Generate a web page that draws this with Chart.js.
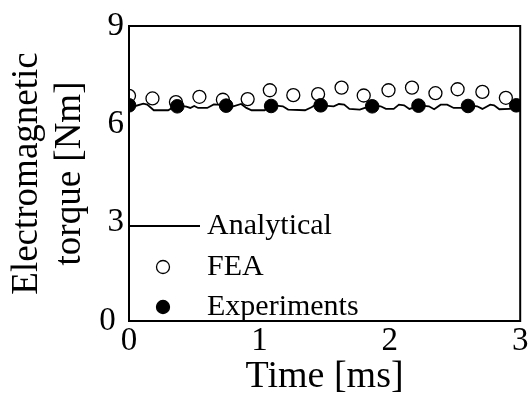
<!DOCTYPE html>
<html>
<head>
<meta charset="utf-8">
<script src="https://cdn.jsdelivr.net/npm/chart.js@4.4.1/dist/chart.umd.min.js"></script>
<style>
  html, body { margin: 0; padding: 0; background: #fff; }
  #wrap { width: 528px; height: 394px; }
</style>
</head>
<body>
<div id="wrap"><canvas id="torqueChart" width="528" height="394"></canvas></div>
<script>
// Electromagnetic torque vs time: analytical, FEA and experiments

const xTicks = [0, 1, 2, 3];
const yTicks = [0, 3, 6, 9];

const analyticalTime = [
    0, 0.05, 0.11, 0.14, 0.19, 0.30, 0.34,
    0.37, 0.44, 0.47, 0.50, 0.53, 0.60, 0.65, 0.69, 0.72,
    0.745, 0.80, 0.86, 0.90, 0.94, 1.04, 1.07,
    1.11, 1.18, 1.22, 1.35, 1.40, 1.44,
    1.47, 1.57, 1.61, 1.65, 1.69, 1.77, 1.82,
    1.86, 1.93, 1.97, 2.03, 2.07, 2.11, 2.15, 2.19,
    2.22, 2.30, 2.34, 2.39, 2.44, 2.49, 2.56,
    2.60, 2.67, 2.71, 2.77, 2.80, 2.84, 2.92,
    2.97, 3.00
];
const analyticalTorque = [
    6.58, 6.56, 6.63, 6.60, 6.43, 6.43, 6.52,
    6.58, 6.54, 6.50, 6.56, 6.50, 6.50, 6.61, 6.60, 6.55,
    6.58, 6.55, 6.62, 6.50, 6.43, 6.43, 6.52,
    6.58, 6.55, 6.45, 6.43, 6.52, 6.62,
    6.58, 6.55, 6.62, 6.60, 6.47, 6.45, 6.52,
    6.58, 6.55, 6.47, 6.47, 6.60, 6.58, 6.47, 6.52,
    6.58, 6.55, 6.46, 6.60, 6.60, 6.50, 6.50,
    6.58, 6.55, 6.47, 6.60, 6.58, 6.46, 6.47,
    6.58, 6.57
];

const feaTime = [0, 0.18, 0.36, 0.54, 0.72, 0.91, 1.08, 1.26, 1.45, 1.63, 1.80, 1.99, 2.17, 2.35, 2.52, 2.71, 2.89];
const feaTorque = [6.87, 6.79, 6.68, 6.84, 6.75, 6.77, 7.04, 6.89, 6.92, 7.12, 6.88, 7.04, 7.12, 6.95, 7.07, 6.99, 6.81];

const expTime = [0, 0.37, 0.745, 1.09, 1.47, 1.865, 2.22, 2.60, 2.97];
const expTorque = [6.58, 6.55, 6.57, 6.56, 6.58, 6.55, 6.57, 6.56, 6.58];

const serif = '"Liberation Serif", "Times New Roman", serif';

function toPoints(xs, ys) {
    return xs.map(function(x, i) { return { x: x, y: ys[i] }; });
}

// box round the plot area
const framePlugin = {
    id: 'frame',
    afterDraw: function(chart) {
        const a = chart.chartArea;
        const ctx = chart.ctx;
        ctx.save();
        ctx.strokeStyle = '#000';
        ctx.lineWidth = 2;
        ctx.strokeRect(a.left, a.top, a.right - a.left, a.bottom - a.top);
        ctx.restore();
    }
};

// legend in the lower-left corner of the plot
const insideLegend = {
    id: 'insideLegend',
    afterDraw: function(chart) {
        const ctx = chart.ctx;
        const a = chart.chartArea;
        const rows = [226, 267, 307];
        const symbolX = 163;
        const textX = 207;
        ctx.save();
        ctx.font = '30px ' + serif;
        ctx.fillStyle = '#000';
        ctx.textBaseline = 'middle';
        chart.data.datasets.forEach(function(ds, i) {
            const y = rows[i];
            ctx.strokeStyle = '#000';
            if (ds.showLine) {
                ctx.lineWidth = 1.8;
                ctx.beginPath();
                ctx.moveTo(a.left, y);
                ctx.lineTo(200, y);
                ctx.stroke();
            } else {
                ctx.lineWidth = 1.3;
                ctx.beginPath();
                ctx.arc(symbolX, y, 6.5, 0, Math.PI * 2);
                ctx.fillStyle = ds.pointBackgroundColor;
                ctx.fill();
                ctx.stroke();
            }
            ctx.fillStyle = '#000';
            ctx.fillText(ds.label, textX, y);
        });
        ctx.restore();
    }
};

function initTorqueChart() {
    const ctx = document.getElementById('torqueChart');

    new Chart(ctx, {
        type: 'scatter',
        data: {
            datasets: [{
                label: 'Analytical',
                data: toPoints(analyticalTime, analyticalTorque),
                showLine: true,
                borderColor: '#000',
                borderWidth: 1.8,
                pointRadius: 0,
                tension: 0,
                order: 3
            }, {
                label: 'FEA',
                data: toPoints(feaTime, feaTorque),
                showLine: false,
                pointRadius: 6.5,
                pointBorderWidth: 1.3,
                borderColor: '#000',
                pointBorderColor: '#000',
                pointBackgroundColor: '#fff',
                order: 2
            }, {
                label: 'Experiments',
                data: toPoints(expTime, expTorque),
                showLine: false,
                pointRadius: 6.8,
                pointBorderWidth: 1,
                borderColor: '#000',
                pointBorderColor: '#000',
                pointBackgroundColor: '#000',
                order: 1
            }]
        },
        options: {
            responsive: false,
            animation: false,
            layout: { padding: { top: 26, right: 7, left: 0, bottom: 0 } },
            plugins: {
                legend: { display: false },
                tooltip: { enabled: false }
            },
            scales: {
                x: {
                    type: 'linear',
                    min: 0,
                    max: 3,
                    afterFit: function(scale) {
                        scale.height = 73;
                        // let the last label hang past the plot edge
                        scale.paddingLeft = 0;
                        scale.paddingRight = 0;
                    },
                    afterBuildTicks: function(scale) {
                        scale.ticks = xTicks.map(function(v) { return { value: v }; });
                    },
                    grid: { display: false, drawTicks: false },
                    border: { display: false },
                    ticks: {
                        color: '#000',
                        padding: 2,
                        maxRotation: 0,
                        font: { family: serif, size: 33, lineHeight: 1.1 }
                    },
                    title: {
                        display: true,
                        text: 'Time [ms]',
                        color: '#000',
                        font: { family: serif, size: 38, lineHeight: 0.9 },
                        padding: { top: 0, bottom: 0 }
                    }
                },
                y: {
                    type: 'linear',
                    min: 0,
                    max: 9,
                    afterFit: function(scale) { scale.width = 129; },
                    afterBuildTicks: function(scale) {
                        scale.ticks = yTicks.map(function(v) { return { value: v }; });
                    },
                    grid: { display: false, drawTicks: false },
                    border: { display: false },
                    ticks: {
                        color: '#000',
                        padding: 5,
                        font: { family: serif, size: 33 },
                        callback: function(value) {
                            // the zero sits a little left of the others
                            return value === 0 ? value + ' ' : String(value);
                        }
                    },
                    title: {
                        display: true,
                        text: ['Electromagnetic', 'torque [Nm]'],
                        color: '#000',
                        font: { family: serif, size: 37, lineHeight: 1.16 },
                        padding: { top: 6, bottom: 0 }
                    }
                }
            }
        },
        plugins: [framePlugin, insideLegend]
    });
}

document.addEventListener('DOMContentLoaded', function() {
    initTorqueChart();
});
</script>
</body>
</html>
